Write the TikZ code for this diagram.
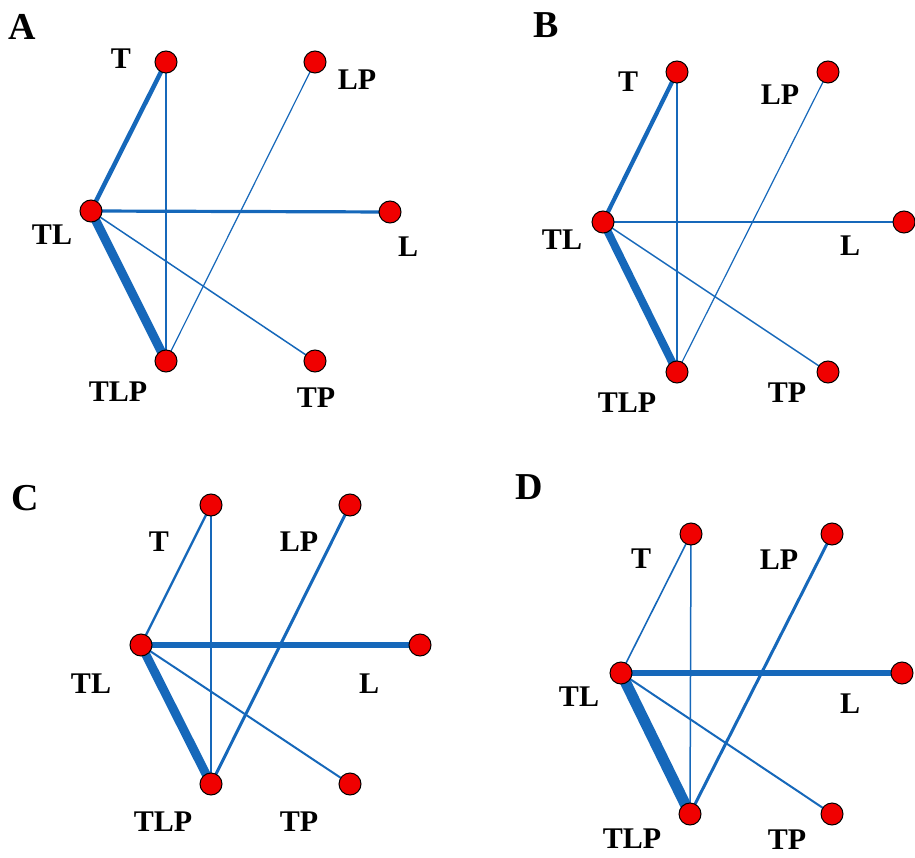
\documentclass[tikz,border=0pt]{standalone}
\usepackage{fontspec}
\setmainfont{Liberation Serif}
\usetikzlibrary{backgrounds}
\definecolor{netblue}{RGB}{22,104,186}
\definecolor{netred}{RGB}{240,0,0}

\begin{document}
\begin{tikzpicture}[x=1pt,y=-1pt,
  vert/.style={circle,fill=netred,draw=black,line width=1pt,minimum size=22pt,inner sep=0pt},
  lbl/.style={font=\fontsize{30}{30}\selectfont\bfseries},
  panel/.style={font=\fontsize{38}{38}\selectfont\bfseries},
  link/.style={draw=netblue}]
  \useasboundingbox (0,0) rectangle (915,858);
  % panel A
  \node[panel] (pA) at (22,27) {A};
  \node[vert] (aT) at (166,62) {};
  \node[vert] (aLP) at (315,62) {};
  \node[vert] (aTL) at (91,211) {};
  \node[vert] (aL) at (390,212) {};
  \node[vert] (aTLP) at (166,361) {};
  \node[vert] (aTP) at (315,361) {};
  \node[lbl] (aTt) at (121,59) {T};
  \node[lbl] (aLPt) at (357,80) {LP};
  \node[lbl] (aTLt) at (52,235) {TL};
  \node[lbl] (aLt) at (408,247) {L};
  \node[lbl] (aTLPt) at (118,392) {TLP};
  \node[lbl] (aTPt) at (316,398) {TP};
  % panel B
  \node[panel] (pB) at (546,25) {B};
  \node[vert] (bT) at (677,72) {};
  \node[vert] (bLP) at (828,72) {};
  \node[vert] (bTL) at (603,222) {};
  \node[vert] (bL) at (904,222) {};
  \node[vert] (bTLP) at (677,372) {};
  \node[vert] (bTP) at (828,372) {};
  \node[lbl] (bTt) at (628,82) {T};
  \node[lbl] (bLPt) at (780,95) {LP};
  \node[lbl] (bTLt) at (562,240) {TL};
  \node[lbl] (bLt) at (850,246) {L};
  \node[lbl] (bTLPt) at (627,403) {TLP};
  \node[lbl] (bTPt) at (787,393) {TP};
  % panel C
  \node[panel] (pC) at (25,498) {C};
  \node[vert] (cT) at (211,505) {};
  \node[vert] (cLP) at (350,505) {};
  \node[vert] (cTL) at (141,645) {};
  \node[vert] (cL) at (420,645) {};
  \node[vert] (cTLP) at (211,784) {};
  \node[vert] (cTP) at (350,784) {};
  \node[lbl] (cTt) at (159,542) {T};
  \node[lbl] (cLPt) at (299,542) {LP};
  \node[lbl] (cTLt) at (91,684) {TL};
  \node[lbl] (cLt) at (369,684) {L};
  \node[lbl] (cTLPt) at (163,822) {TLP};
  \node[lbl] (cTPt) at (299,822) {TP};
  % panel D
  \node[panel] (pD) at (529,487) {D};
  \node[vert] (dT) at (691,534) {};
  \node[vert] (dLP) at (832,534) {};
  \node[vert] (dTL) at (621,673) {};
  \node[vert] (dL) at (902,673) {};
  \node[vert] (dTLP) at (690,814) {};
  \node[vert] (dTP) at (832,814) {};
  \node[lbl] (dTt) at (641,559) {T};
  \node[lbl] (dLPt) at (779,560) {LP};
  \node[lbl] (dTLt) at (579,697) {TL};
  \node[lbl] (dLt) at (850,704) {L};
  \node[lbl] (dTLPt) at (632,839) {TLP};
  \node[lbl] (dTPt) at (787,840) {TP};
  % edges, widths follow the weights
  \begin{scope}[on background layer]
    \draw[link,line width=4.5pt] (aT.center) -- (aTL.center);
    \draw[link,line width=2pt] (aT.center) -- (aTLP.center);
    \draw[link,line width=1.2pt] (aLP.center) -- (aTLP.center);
    \draw[link,line width=3.2pt] (aTL.center) -- (aL.center);
    \draw[link,line width=9pt] (aTL.center) -- (aTLP.center);
    \draw[link,line width=1.5pt] (aTL.center) -- (aTP.center);
    \draw[link,line width=4.2pt] (bT.center) -- (bTL.center);
    \draw[link,line width=2pt] (bT.center) -- (bTLP.center);
    \draw[link,line width=1.2pt] (bLP.center) -- (bTLP.center);
    \draw[link,line width=2.2pt] (bTL.center) -- (bL.center);
    \draw[link,line width=8pt] (bTL.center) -- (bTLP.center);
    \draw[link,line width=1.4pt] (bTL.center) -- (bTP.center);
    \draw[link,line width=2.4pt] (cT.center) -- (cTL.center);
    \draw[link,line width=2pt] (cT.center) -- (cTLP.center);
    \draw[link,line width=3pt] (cLP.center) -- (cTLP.center);
    \draw[link,line width=6.5pt] (cTL.center) -- (cL.center);
    \draw[link,line width=9pt] (cTL.center) -- (cTLP.center);
    \draw[link,line width=2pt] (cTL.center) -- (cTP.center);
    \draw[link,line width=1.6pt] (dT.center) -- (dTL.center);
    \draw[link,line width=1.5pt] (dT.center) -- (dTLP.center);
    \draw[link,line width=3pt] (dLP.center) -- (dTLP.center);
    \draw[link,line width=6.5pt] (dTL.center) -- (dL.center);
    \draw[link,line width=11pt] (dTL.center) -- (dTLP.center);
    \draw[link,line width=2pt] (dTL.center) -- (dTP.center);
  \end{scope}
\end{tikzpicture}
\end{document}
